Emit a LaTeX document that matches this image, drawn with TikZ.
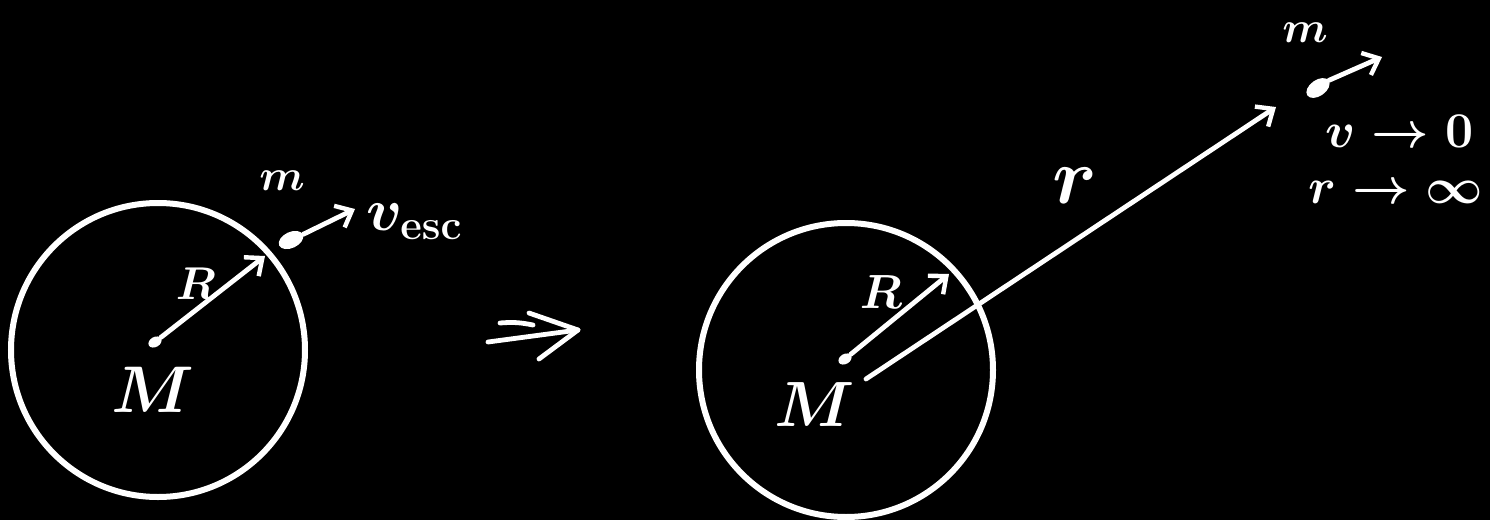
\RequirePackage{fix-cm}
\documentclass[tikz,border=0pt]{standalone}
\usetikzlibrary{arrows.meta,shapes.geometric}
\begin{document}
\begin{tikzpicture}[x=0.5pt,y=-0.5pt,
  chalk/.style={white, line width=2.4pt, line cap=round, line join=round},
  vec/.style={chalk, -{Straight Barb[length=7pt,width=12pt,line width=2.2pt]}},
  ring/.style={white, line width=3pt},
  lbl/.style={white, inner sep=0pt, font=\boldmath},
  blob/.style={ellipse, fill=white, inner sep=0pt, minimum width=13pt, minimum height=8pt},
  cdot/.style={ellipse, fill=white, inner sep=0pt, minimum width=7pt, minimum height=5pt}]
\fill[black] (0,0) rectangle (1490,520);
\useasboundingbox (0,0) rectangle (1490,520);

% ---------- left picture ----------
\draw[ring] (158,350) circle[radius=147];
\node[cdot, rotate=30] (cL) at (155,342) {};
\coordinate (sL) at (265,256);
\draw[vec] (cL) -- (sL);
\node[lbl] (RL) at (196,284) {\fontsize{23}{26}\selectfont$R$};
\node[lbl] (ML) at (153,390) {\fontsize{33}{36}\selectfont$M$};
\node[lbl] (mL) at (282,181) {\fontsize{22}{24}\selectfont$m$};
\node[blob, rotate=25] (pL) at (291,240) {};
\coordinate (vL) at (355,209);
\draw[vec] (pL.east) -- (vL);
\node[lbl, anchor=west] (vesc) at (366,222) {\fontsize{30}{34}\selectfont$v_{\mathbf{esc}}$};

% ---------- implies arrow ----------
\coordinate (i1) at (500,323);
\coordinate (i2) at (533,325);
\coordinate (i3) at (488,342);
\coordinate (i4) at (578,330);
\coordinate (i5) at (529,313);
\coordinate (i6) at (539,359);
\draw[chalk] (i1) to[bend left=8] (i2);
\draw[chalk] (i3) -- (i4);
\draw[chalk] (i5) -- (i4) -- (i6);

% ---------- right picture ----------
\draw[ring] (846,370) circle[radius=147];
\node[cdot, rotate=30] (cR) at (845,359) {};
\coordinate (sR) at (949,274);
\draw[vec] (cR) -- (sR);
\node[lbl] (RR) at (881,292) {\fontsize{24}{26}\selectfont$R$};
\node[lbl] (MR) at (815,405) {\fontsize{32}{36}\selectfont$M$};
\coordinate (rs) at (866,379);
\coordinate (rt) at (1276,107);
\draw[vec] (rs) -- (rt);
\node[lbl] (rlab) at (1075,186) {\fontsize{40}{44}\selectfont$r$};
\node[lbl] (mR) at (1305,33) {\fontsize{22}{24}\selectfont$m$};
\node[blob, rotate=35] (pR) at (1318,88) {};
\coordinate (vR) at (1382,57);
\draw[vec] (pR.east) -- (vR);
\node[lbl, anchor=west] (vzero) at (1325,131) {\fontsize{25}{28}\selectfont$v\to 0$};
\node[lbl, anchor=west] (rinf) at (1308,192) {\fontsize{25}{28}\selectfont$r\to \infty$};
\end{tikzpicture}
\end{document}
